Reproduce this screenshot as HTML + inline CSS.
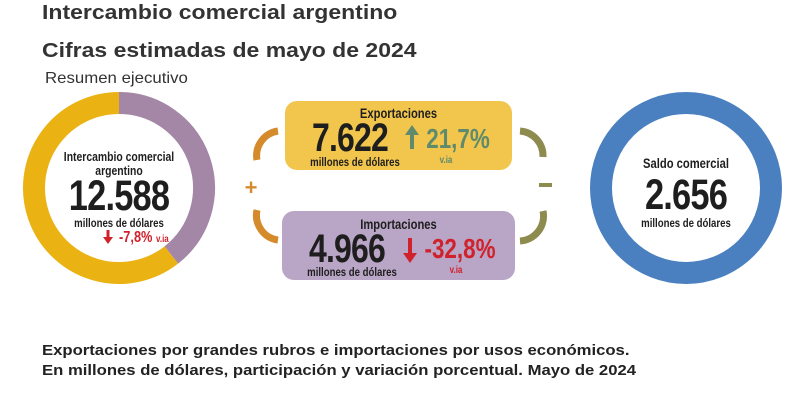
<!DOCTYPE html>
<html><head><meta charset="utf-8"><style>
body{margin:0;width:801px;height:415px;background:#fff;font-family:"Liberation Sans",sans-serif;position:relative;overflow:hidden;color:#222}
.t{position:absolute;white-space:nowrap;transform-origin:left top;transform:scaleX(1.15)}
.c{position:absolute;text-align:center;white-space:nowrap;font-weight:bold;transform:scaleX(0.8);transform-origin:center top;color:#1e1e1e}
</style></head><body>
<div class="t" style="left:42px;top:2px;font-size:20px;font-weight:bold;color:#333">Intercambio comercial argentino</div>
<div class="t" style="left:42px;top:40px;font-size:20px;font-weight:bold;color:#333">Cifras estimadas de mayo de 2024</div>
<div class="t" style="left:45px;top:70px;font-size:16px;color:#333;transform:scaleX(1.05)">Resumen ejecutivo</div>
<svg width="801" height="415" style="position:absolute;left:0;top:0">
<g id="d1"></g>
<circle cx="686" cy="188" r="85" fill="none" stroke="#4a80c0" stroke-width="22"/>
<rect x="285" y="101" width="227" height="69" rx="12" fill="#f2c64d"/>
<rect x="282" y="211" width="233" height="69" rx="12" fill="#b9a5c5"/>
<g fill="none" stroke="#d58a2c" stroke-width="7">
<path d="M257,160 A25,25 0 0 1 278,131"/><path d="M257,210 A25,25 0 0 0 278,240"/></g>
<g fill="none" stroke="#8e8b4f" stroke-width="7">
<path d="M520,131 A25,25 0 0 1 543,157"/><path d="M543,211 A25,25 0 0 1 520,241"/></g>
<text x="251" y="195" font-size="22" font-weight="bold" fill="#d58a2c" text-anchor="middle">+</text>
<rect x="539" y="183" width="13" height="4" fill="#8e8b4f"/>
<g fill="#d0222c"><rect x="106.5" y="230" width="3" height="9"/><polygon points="103,237 113,237 108,244"/></g>
<g fill="#5f8a6c"><rect x="410" y="131" width="4" height="18"/><polygon points="405,135 419,135 412,125"/></g>
<g fill="#d0222c"><rect x="408" y="238" width="4" height="18"/><polygon points="403,253 417,253 410,263"/></g>
</svg>
<div class="c" style="left:49px;width:140px;top:150px;font-size:13px;line-height:14px">Intercambio comercial<br>argentino</div>
<div class="c" style="left:49px;width:140px;top:172px;font-size:43px;letter-spacing:-1px">12.588</div>
<div class="c" style="left:49px;width:140px;top:216px;font-size:12px">millones de dólares</div>
<div class="c" style="left:113px;width:60px;top:229px;font-size:16px;color:#d0222c">-7,8% <span style="font-size:10px">v.ia</span></div>
<div class="c" style="left:285px;width:227px;top:105px;font-size:14px">Exportaciones</div>
<div class="c" style="left:295px;width:110px;top:116px;font-size:40px;letter-spacing:-1px">7.622</div>
<div class="c" style="left:285px;width:140px;top:155px;font-size:12px">millones de dólares</div>
<div class="c" style="left:418px;width:80px;top:123px;font-size:28px;color:#5f8a6c">21,7%</div>
<div class="c" style="left:426px;width:40px;top:155px;font-size:10px;color:#5f8a6c">v.ia</div>
<div class="c" style="left:282px;width:233px;top:216px;font-size:14px">Importaciones</div>
<div class="c" style="left:292px;width:110px;top:227px;font-size:40px;letter-spacing:-1px">4.966</div>
<div class="c" style="left:282px;width:140px;top:265px;font-size:12px">millones de dólares</div>
<div class="c" style="left:415px;width:90px;top:233px;font-size:28px;color:#d0222c">-32,8%</div>
<div class="c" style="left:436px;width:40px;top:265px;font-size:10px;color:#d0222c">v.ia</div>
<div class="c" style="left:616px;width:140px;top:155px;font-size:14px">Saldo comercial</div>
<div class="c" style="left:616px;width:140px;top:171px;font-size:43px;letter-spacing:-1px">2.656</div>
<div class="c" style="left:616px;width:140px;top:216px;font-size:12px">millones de dólares</div>
<div class="t" style="left:42px;top:343px;font-size:14.5px;font-weight:bold">Exportaciones por grandes rubros e importaciones por usos económicos.</div>
<div class="t" style="left:42px;top:363px;font-size:14.5px;font-weight:bold">En millones de dólares, participación y variación porcentual. Mayo de 2024</div>
<script>
const segments=["Importaciones","Exportaciones"];
const values=[4966,7622];
const colors=["#a486a6","#eab313"];
const g=document.getElementById('d1');
const cx=119,cy=188,r=85;
const tot=values.reduce((a,b)=>a+b,0);
let a0=0;
values.forEach((v,i)=>{
  const a1=a0+v/tot*2*Math.PI;
  const p=document.createElementNS('http://www.w3.org/2000/svg','path');
  const x0=cx+r*Math.sin(a0),y0=cy-r*Math.cos(a0),x1=cx+r*Math.sin(a1),y1=cy-r*Math.cos(a1);
  p.setAttribute('d',`M${x0},${y0} A${r},${r} 0 ${a1-a0>Math.PI?1:0} 1 ${x1},${y1}`);
  p.setAttribute('fill','none');p.setAttribute('stroke',colors[i]);p.setAttribute('stroke-width','22');
  
  
  g.appendChild(p);a0=a1;
});
</script>
</body></html>
